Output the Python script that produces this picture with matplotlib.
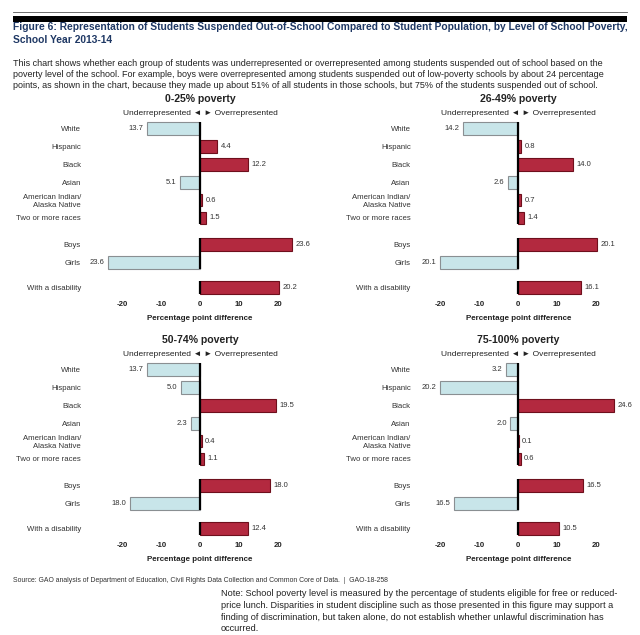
import matplotlib
matplotlib.use("Agg")
import matplotlib.pyplot as plt
from matplotlib.lines import Line2D
from matplotlib.patches import Rectangle

# ---- data ----
categories = ["White", "Hispanic", "Black", "Asian", "American Indian/\nAlaska Native",
              "Two or more races", "Boys", "Girls", "With a disability"]
panel_titles = ["0-25% poverty", "26-49% poverty", "50-74% poverty", "75-100% poverty"]
pov_0_25 = [-13.7, 4.4, 12.2, -5.1, 0.6, 1.5, 23.6, -23.6, 20.2]
pov_26_49 = [-14.2, 0.8, 14.0, -2.6, 0.7, 1.4, 20.1, -20.1, 16.1]
pov_50_74 = [-13.7, -5.0, 19.5, -2.3, 0.4, 1.1, 18.0, -18.0, 12.4]
pov_75_100 = [-3.2, -20.2, 24.6, -2.0, 0.1, 0.6, 16.5, -16.5, 10.5]
xticks = [-20, -10, 0, 10, 20]

title_text = ("Figure 6: Representation of Students Suspended Out-of-School Compared to Student Population, by Level of School Poverty,\n"
              "School Year 2013-14")
body_text = ("This chart shows whether each group of students was underrepresented or overrepresented among students suspended out of school based on the\n"
             "poverty level of the school. For example, boys were overrepresented among students suspended out of low-poverty schools by about 24 percentage\n"
             "points, as shown in the chart, because they made up about 51% of all students in those schools, but 75% of the students suspended out of school.")
source_text = "Source: GAO analysis of Department of Education, Civil Rights Data Collection and Common Core of Data.  |  GAO-18-258"
note_text = ("Note: School poverty level is measured by the percentage of students eligible for free or reduced-\n"
             "price lunch. Disparities in student discipline such as those presented in this figure may support a\n"
             "finding of discrimination, but taken alone, do not establish whether unlawful discrimination has\n"
             "occurred.")

# row positions: race block, sex block, disability
ypos = [0, 1, 2, 3, 4, 5, 6.5, 7.5, 8.9]
groups = [(0, 5), (6, 7), (8, 8)]

RED = "#B3293F"
RED_EDGE = "#6E0F1C"
BLUE = "#C8E5E9"
BLUE_EDGE = "#8A8F92"
TXT = "#333333"

plt.rcParams["font.family"] = ["Liberation Sans", "DejaVu Sans"]

W, H = 640, 635
fig = plt.figure(figsize=(W / 100, H / 100), dpi=100)

# header rules
fig.add_artist(Line2D([13 / W, 627 / W], [1 - 12 / H, 1 - 12 / H], color="#555555", lw=0.6))
fig.add_artist(Rectangle((13 / W, 1 - 21.5 / H), 614 / W, 5.5 / H, color="black", lw=0))

fig.text(13 / W, 1 - 22 / H, title_text, ha="left", va="top", fontsize=7.35, fontweight="bold",
         color="#1F3864", linespacing=1.32)
fig.text(13 / W, 1 - 59 / H, body_text, ha="left", va="top", fontsize=6.5, color="#222222",
         linespacing=1.25)

XL = 26
px_per_unit = 3.9
ax_w = 2 * XL * px_per_unit
zeros_x = [200, 518.3]
tops_y = [117.5, 358.5]
ax_h = 181.2
label_pad = [12.7, 4.5]

series = [pov_0_25, pov_26_49, pov_50_74, pov_75_100]

for i, (vals, ptitle) in enumerate(zip(series, panel_titles)):
    col, row = i % 2, i // 2
    left = (zeros_x[col] - XL * px_per_unit) / W
    bottom = 1 - (tops_y[row] + ax_h) / H
    ax = fig.add_axes([left, bottom, ax_w / W, ax_h / H])

    colors = [RED if v >= 0 else BLUE for v in vals]
    edges = [RED_EDGE if v >= 0 else BLUE_EDGE for v in vals]
    ax.barh(ypos, vals, height=0.72, color=colors, edgecolor=edges, linewidth=0.8, zorder=2)

    for y, v in zip(ypos, vals):
        if v >= 0:
            ax.annotate(f"{abs(v):.1f}", (v, y), xytext=(2.5, 0), textcoords="offset points",
                        ha="left", va="center", fontsize=5.5, color=TXT)
        else:
            ax.annotate(f"{abs(v):.1f}", (v, y), xytext=(-2.5, 0), textcoords="offset points",
                        ha="right", va="center", fontsize=5.5, color=TXT)

    for a, b in groups:
        ax.vlines(0, ypos[a] - 0.36, ypos[b] + 0.36, color="black", lw=1.6, zorder=3)

    ax.set_xlim(-XL, XL)
    ax.set_ylim(9.5, -0.6)
    ax.set_xticks(xticks)
    ax.set_xticklabels([str(t) for t in xticks], fontsize=5.6, fontweight="bold", color="#222222")
    ax.set_yticks(ypos)
    ax.set_yticklabels(categories, fontsize=5.55, color=TXT)
    ax.tick_params(axis="x", length=0, pad=1.5)
    ax.tick_params(axis="y", length=0, pad=label_pad[col])
    for s in ax.spines.values():
        s.set_visible(False)
    ax.set_xlabel("Percentage point difference", fontsize=5.8, fontweight="bold", color="#222222",
                  labelpad=5.5)

    cx = zeros_x[col] / W
    ty = tops_y[row] - 18.5
    fig.text(cx, 1 - ty / H, ptitle, ha="center", va="center", fontsize=7.6, fontweight="bold",
             color="#222222")
    fig.text(cx, 1 - (ty + 14.5) / H, "Underrepresented \u25c4 \u25ba Overrepresented", ha="center",
             va="center", fontsize=6.0, color="#222222")

fig.text(13 / W, 1 - 580 / H, source_text, ha="left", va="center", fontsize=4.95, color="#333333")
fig.text(221 / W, 1 - 589 / H, note_text, ha="left", va="top", fontsize=6.6, color="#222222",
         linespacing=1.4)

fig.savefig("out.png", dpi=100)
